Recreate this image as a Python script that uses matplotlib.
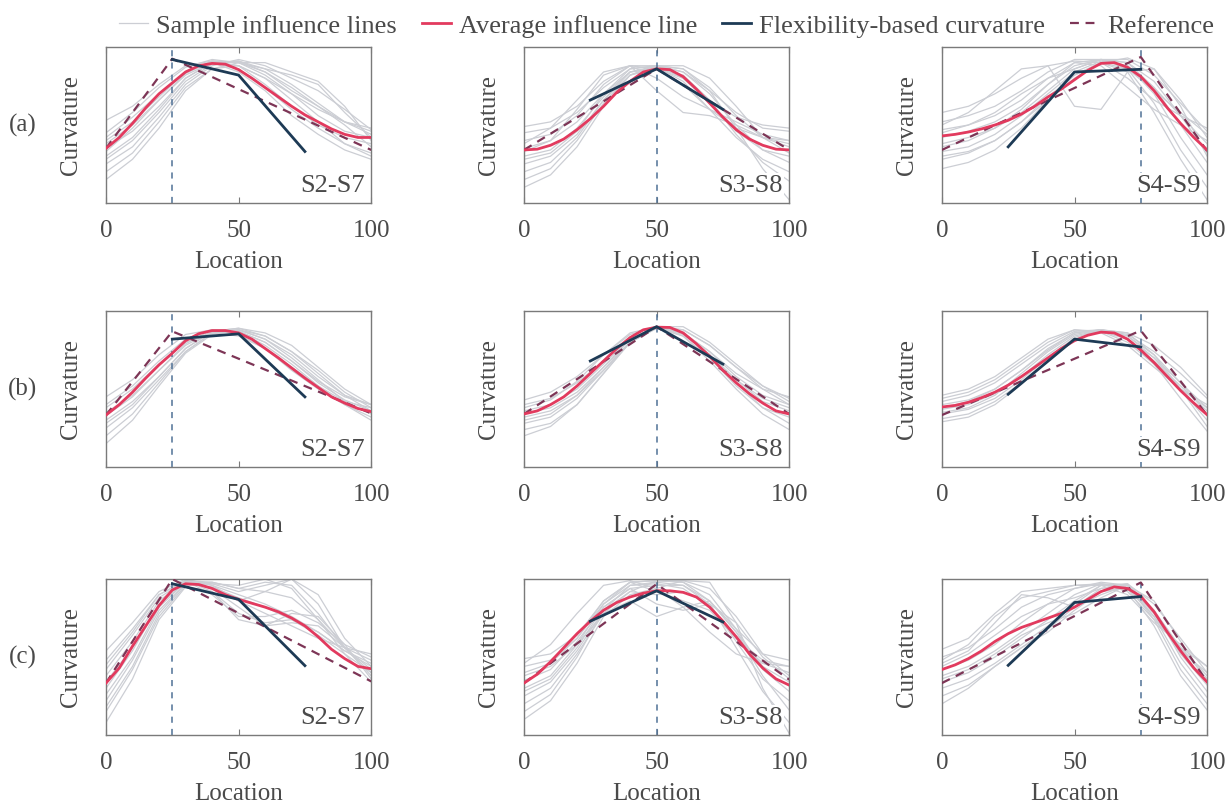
import numpy as np
import matplotlib
matplotlib.use("Agg")
import matplotlib.pyplot as plt

#================================== DATA ======================================#

x_gray = [0, 10, 20, 30, 40, 50, 60, 70, 80, 90, 100]
x_avg = [0, 5, 10, 15, 20, 25, 30, 35, 40, 45, 50, 55, 60, 65, 70, 75, 80, 85, 90, 95, 100]
x_flex = [25, 50, 75]

row_labels = ["(a)", "(b)", "(c)"]
pair_labels = ["S2-S7", "S3-S8", "S4-S9"]
sensor_loc = [25, 50, 75]

# --- row (a) ---
gray_a1 = [
    [0.53, 0.62, 0.76, 0.88, 0.91, 0.88, 0.80, 0.70, 0.60, 0.52, 0.48],
    [0.45, 0.58, 0.74, 0.87, 0.92, 0.90, 0.84, 0.74, 0.62, 0.52, 0.46],
    [0.40, 0.52, 0.68, 0.84, 0.91, 0.90, 0.82, 0.70, 0.56, 0.46, 0.42],
    [0.35, 0.46, 0.62, 0.80, 0.90, 0.91, 0.86, 0.76, 0.64, 0.52, 0.44],
    [0.30, 0.42, 0.60, 0.80, 0.90, 0.88, 0.76, 0.62, 0.50, 0.42, 0.38],
    [0.25, 0.36, 0.55, 0.76, 0.88, 0.92, 0.88, 0.80, 0.72, 0.60, 0.47],
    [0.20, 0.32, 0.52, 0.74, 0.86, 0.88, 0.80, 0.66, 0.52, 0.38, 0.30],
    [0.15, 0.28, 0.48, 0.72, 0.86, 0.90, 0.90, 0.84, 0.78, 0.62, 0.40],
    [0.38, 0.50, 0.66, 0.82, 0.90, 0.86, 0.74, 0.60, 0.48, 0.38, 0.32],
    [0.42, 0.55, 0.70, 0.84, 0.90, 0.84, 0.72, 0.56, 0.44, 0.34, 0.28],
    [0.28, 0.40, 0.58, 0.78, 0.89, 0.91, 0.84, 0.72, 0.62, 0.50, 0.36],
    [0.33, 0.48, 0.66, 0.83, 0.91, 0.90, 0.86, 0.82, 0.76, 0.58, 0.42],
]
avg_a1 = [0.35, 0.42, 0.51, 0.61, 0.70, 0.77, 0.84, 0.88, 0.895, 0.89, 0.855,
          0.80, 0.74, 0.68, 0.62, 0.565, 0.52, 0.475, 0.44, 0.42, 0.42]
flex_a1 = [0.92, 0.82, 0.33]
ref_a1 = [0.35, 0.925, 0.34]

gray_a2 = [
    [0.49, 0.52, 0.62, 0.78, 0.88, 0.88, 0.80, 0.66, 0.55, 0.50, 0.48],
    [0.45, 0.48, 0.58, 0.74, 0.86, 0.88, 0.84, 0.72, 0.58, 0.48, 0.46],
    [0.40, 0.44, 0.56, 0.76, 0.88, 0.86, 0.76, 0.60, 0.48, 0.42, 0.40],
    [0.35, 0.40, 0.52, 0.70, 0.84, 0.88, 0.86, 0.74, 0.56, 0.42, 0.36],
    [0.30, 0.34, 0.48, 0.68, 0.84, 0.86, 0.80, 0.64, 0.46, 0.34, 0.30],
    [0.25, 0.30, 0.44, 0.66, 0.82, 0.88, 0.84, 0.70, 0.50, 0.34, 0.26],
    [0.20, 0.26, 0.42, 0.66, 0.84, 0.87, 0.78, 0.60, 0.42, 0.28, 0.20],
    [0.15, 0.22, 0.40, 0.64, 0.82, 0.86, 0.82, 0.66, 0.44, 0.26, 0.14],
    [0.10, 0.18, 0.36, 0.62, 0.82, 0.88, 0.86, 0.72, 0.48, 0.22, 0.02],
    [0.38, 0.48, 0.66, 0.84, 0.88, 0.72, 0.58, 0.56, 0.50, 0.42, 0.38],
    [0.33, 0.40, 0.60, 0.82, 0.88, 0.80, 0.68, 0.60, 0.52, 0.44, 0.40],
    [0.28, 0.32, 0.46, 0.70, 0.86, 0.88, 0.88, 0.80, 0.62, 0.42, 0.32],
]
avg_a2 = [0.34, 0.345, 0.37, 0.41, 0.47, 0.54, 0.62, 0.71, 0.78, 0.84, 0.86,
          0.855, 0.81, 0.73, 0.64, 0.55, 0.47, 0.41, 0.37, 0.345, 0.34]
flex_a2 = [0.66, 0.86, 0.60]
ref_a2 = [0.34, 0.86, 0.34]

gray_a3 = [
    [0.58, 0.62, 0.70, 0.80, 0.88, 0.91, 0.90, 0.80, 0.66, 0.56, 0.48],
    [0.52, 0.56, 0.62, 0.72, 0.84, 0.92, 0.92, 0.86, 0.72, 0.58, 0.44],
    [0.47, 0.50, 0.56, 0.66, 0.80, 0.90, 0.92, 0.88, 0.74, 0.56, 0.38],
    [0.42, 0.46, 0.52, 0.62, 0.76, 0.88, 0.92, 0.90, 0.78, 0.56, 0.32],
    [0.38, 0.42, 0.48, 0.58, 0.72, 0.86, 0.92, 0.90, 0.74, 0.50, 0.26],
    [0.33, 0.36, 0.44, 0.56, 0.70, 0.84, 0.91, 0.88, 0.70, 0.42, 0.18],
    [0.28, 0.32, 0.40, 0.52, 0.68, 0.82, 0.90, 0.86, 0.64, 0.34, 0.10],
    [0.22, 0.26, 0.34, 0.48, 0.66, 0.82, 0.90, 0.84, 0.58, 0.28, 0.02],
    [0.50, 0.58, 0.72, 0.86, 0.88, 0.62, 0.60, 0.84, 0.86, 0.66, 0.42],
    [0.45, 0.50, 0.58, 0.70, 0.80, 0.86, 0.92, 0.92, 0.82, 0.64, 0.46],
    [0.36, 0.40, 0.48, 0.60, 0.76, 0.90, 0.88, 0.74, 0.60, 0.50, 0.40],
    [0.30, 0.33, 0.40, 0.52, 0.66, 0.80, 0.90, 0.93, 0.86, 0.62, 0.30],
]
avg_a3 = [0.43, 0.44, 0.455, 0.475, 0.50, 0.53, 0.57, 0.62, 0.68, 0.73, 0.79,
          0.85, 0.895, 0.90, 0.87, 0.81, 0.72, 0.61, 0.51, 0.42, 0.34]
flex_a3 = [0.36, 0.84, 0.857]
ref_a3 = [0.34, 0.936, 0.333]

# --- row (b) ---
gray_b1 = [
    [0.45, 0.56, 0.72, 0.85, 0.88, 0.85, 0.76, 0.64, 0.52, 0.42, 0.38],
    [0.40, 0.52, 0.68, 0.82, 0.88, 0.87, 0.80, 0.68, 0.55, 0.45, 0.40],
    [0.35, 0.46, 0.62, 0.78, 0.87, 0.88, 0.82, 0.72, 0.58, 0.46, 0.40],
    [0.30, 0.42, 0.58, 0.76, 0.87, 0.89, 0.84, 0.74, 0.60, 0.46, 0.36],
    [0.25, 0.38, 0.56, 0.74, 0.86, 0.88, 0.82, 0.70, 0.56, 0.42, 0.34],
    [0.20, 0.34, 0.54, 0.74, 0.86, 0.87, 0.78, 0.66, 0.52, 0.40, 0.32],
    [0.15, 0.30, 0.52, 0.73, 0.85, 0.88, 0.84, 0.74, 0.62, 0.48, 0.38],
    [0.38, 0.50, 0.66, 0.80, 0.86, 0.84, 0.76, 0.62, 0.50, 0.40, 0.30],
    [0.28, 0.40, 0.58, 0.76, 0.87, 0.89, 0.86, 0.78, 0.64, 0.50, 0.40],
    [0.33, 0.45, 0.62, 0.79, 0.88, 0.87, 0.80, 0.68, 0.54, 0.43, 0.36],
]
avg_b1 = [0.333, 0.40, 0.48, 0.57, 0.655, 0.73, 0.81, 0.855, 0.875, 0.875, 0.86,
          0.82, 0.76, 0.70, 0.635, 0.57, 0.51, 0.45, 0.41, 0.375, 0.355]
flex_b1 = [0.82, 0.854, 0.45]
ref_b1 = [0.333, 0.87, 0.344]

gray_b2 = [
    [0.43, 0.48, 0.58, 0.72, 0.85, 0.90, 0.86, 0.74, 0.60, 0.50, 0.45],
    [0.40, 0.44, 0.54, 0.68, 0.82, 0.90, 0.88, 0.78, 0.64, 0.52, 0.44],
    [0.36, 0.40, 0.50, 0.66, 0.82, 0.90, 0.86, 0.74, 0.58, 0.46, 0.40],
    [0.32, 0.36, 0.46, 0.62, 0.80, 0.89, 0.86, 0.72, 0.56, 0.42, 0.36],
    [0.28, 0.32, 0.44, 0.62, 0.80, 0.90, 0.84, 0.70, 0.52, 0.38, 0.32],
    [0.24, 0.28, 0.40, 0.60, 0.80, 0.90, 0.86, 0.72, 0.54, 0.38, 0.28],
    [0.20, 0.26, 0.40, 0.60, 0.80, 0.89, 0.84, 0.68, 0.50, 0.34, 0.24],
    [0.38, 0.43, 0.55, 0.72, 0.86, 0.90, 0.88, 0.78, 0.64, 0.50, 0.40],
    [0.30, 0.34, 0.46, 0.64, 0.82, 0.90, 0.90, 0.80, 0.66, 0.52, 0.42],
    [0.34, 0.38, 0.48, 0.64, 0.80, 0.89, 0.85, 0.72, 0.56, 0.44, 0.38],
]
avg_b2 = [0.34, 0.36, 0.40, 0.45, 0.52, 0.60, 0.68, 0.76, 0.83, 0.88, 0.897,
          0.895, 0.86, 0.79, 0.71, 0.62, 0.54, 0.47, 0.41, 0.36, 0.34]
flex_b2 = [0.68, 0.90, 0.66]
ref_b2 = [0.34, 0.90, 0.34]

gray_b3 = [
    [0.46, 0.50, 0.58, 0.70, 0.82, 0.88, 0.86, 0.78, 0.64, 0.50, 0.40],
    [0.42, 0.46, 0.54, 0.66, 0.78, 0.87, 0.88, 0.82, 0.68, 0.52, 0.36],
    [0.40, 0.43, 0.50, 0.62, 0.75, 0.86, 0.88, 0.82, 0.70, 0.54, 0.38],
    [0.37, 0.40, 0.47, 0.58, 0.72, 0.84, 0.88, 0.84, 0.72, 0.54, 0.34],
    [0.34, 0.37, 0.44, 0.56, 0.70, 0.83, 0.88, 0.84, 0.70, 0.50, 0.30],
    [0.31, 0.34, 0.42, 0.54, 0.68, 0.82, 0.88, 0.86, 0.72, 0.50, 0.26],
    [0.29, 0.32, 0.40, 0.53, 0.68, 0.82, 0.87, 0.82, 0.66, 0.44, 0.23],
    [0.38, 0.42, 0.50, 0.62, 0.76, 0.86, 0.88, 0.86, 0.78, 0.64, 0.46],
    [0.44, 0.48, 0.56, 0.68, 0.80, 0.88, 0.87, 0.80, 0.66, 0.50, 0.38],
    [0.35, 0.38, 0.46, 0.60, 0.74, 0.85, 0.88, 0.85, 0.74, 0.60, 0.44],
]
avg_b3 = [0.385, 0.395, 0.415, 0.445, 0.48, 0.525, 0.58, 0.64, 0.70, 0.76, 0.81,
          0.845, 0.865, 0.86, 0.82, 0.75, 0.67, 0.58, 0.49, 0.41, 0.335]
flex_b3 = [0.467, 0.82, 0.77]
ref_b3 = [0.333, 0.875, 0.333]

# --- row (c) ---
gray_c1 = [
    [0.54, 0.72, 0.92, 1.00, 0.96, 0.86, 0.78, 0.70, 0.62, 0.56, 0.52],
    [0.45, 0.66, 0.90, 0.99, 0.92, 0.78, 0.72, 0.74, 0.66, 0.54, 0.46],
    [0.38, 0.60, 0.86, 0.99, 0.96, 0.90, 0.84, 0.76, 0.66, 0.54, 0.44],
    [0.30, 0.54, 0.84, 0.98, 0.94, 0.82, 0.70, 0.72, 0.70, 0.56, 0.40],
    [0.22, 0.48, 0.80, 0.97, 0.98, 0.94, 0.92, 0.88, 0.74, 0.56, 0.42],
    [0.15, 0.42, 0.76, 0.96, 0.97, 0.92, 0.96, 1.00, 0.84, 0.56, 0.38],
    [0.08, 0.36, 0.74, 0.95, 0.92, 0.74, 0.70, 0.78, 0.76, 0.58, 0.36],
    [0.42, 0.64, 0.88, 0.99, 0.98, 0.94, 0.98, 0.96, 0.78, 0.56, 0.48],
    [0.34, 0.56, 0.84, 0.98, 0.94, 0.86, 0.92, 1.00, 0.90, 0.62, 0.44],
    [0.26, 0.50, 0.82, 0.98, 0.97, 0.96, 1.00, 0.94, 0.74, 0.52, 0.40],
    [0.48, 0.68, 0.90, 0.99, 0.90, 0.76, 0.76, 0.80, 0.72, 0.58, 0.50],
    [0.18, 0.44, 0.78, 0.97, 0.95, 0.88, 0.82, 0.74, 0.64, 0.52, 0.34],
]
avg_c1 = [0.333, 0.43, 0.57, 0.70, 0.83, 0.93, 0.97, 0.965, 0.94, 0.90, 0.87,
          0.845, 0.82, 0.79, 0.75, 0.70, 0.63, 0.55, 0.49, 0.44, 0.425]
flex_c1 = [0.97, 0.87, 0.445]
ref_c1 = [0.333, 1.0, 0.344]

gray_c2 = [
    [0.49, 0.52, 0.64, 0.86, 0.98, 0.99, 0.98, 0.86, 0.68, 0.52, 0.48],
    [0.44, 0.48, 0.62, 0.84, 0.96, 0.97, 0.94, 0.82, 0.62, 0.48, 0.44],
    [0.40, 0.46, 0.62, 0.86, 0.98, 0.92, 0.86, 0.80, 0.62, 0.46, 0.40],
    [0.35, 0.42, 0.60, 0.82, 0.94, 0.96, 0.96, 0.86, 0.66, 0.44, 0.34],
    [0.30, 0.38, 0.58, 0.84, 0.98, 0.99, 0.98, 0.90, 0.68, 0.42, 0.28],
    [0.25, 0.34, 0.54, 0.80, 0.92, 0.90, 0.92, 0.84, 0.60, 0.36, 0.22],
    [0.20, 0.30, 0.52, 0.78, 0.86, 0.76, 0.82, 0.86, 0.66, 0.38, 0.16],
    [0.15, 0.26, 0.50, 0.80, 0.96, 0.98, 0.96, 0.84, 0.56, 0.28, 0.08],
    [0.10, 0.22, 0.46, 0.76, 0.90, 0.94, 0.99, 0.98, 0.72, 0.30, 0.01],
    [0.46, 0.58, 0.78, 0.96, 0.99, 0.94, 0.82, 0.66, 0.52, 0.46, 0.44],
    [0.38, 0.44, 0.58, 0.78, 0.92, 0.99, 0.99, 0.94, 0.76, 0.52, 0.38],
    [0.28, 0.36, 0.56, 0.82, 0.94, 0.84, 0.80, 0.84, 0.72, 0.50, 0.36],
]
avg_c2 = [0.333, 0.39, 0.47, 0.56, 0.65, 0.73, 0.80, 0.85, 0.885, 0.91, 0.925,
          0.925, 0.915, 0.885, 0.82, 0.73, 0.63, 0.52, 0.43, 0.36, 0.32]
flex_c2 = [0.73, 0.925, 0.725]
ref_c2 = [0.333, 0.968, 0.355]

gray_c3 = [
    [0.55, 0.62, 0.78, 0.92, 0.94, 0.96, 0.97, 0.92, 0.74, 0.56, 0.44],
    [0.50, 0.56, 0.68, 0.82, 0.90, 0.94, 0.97, 0.94, 0.76, 0.54, 0.40],
    [0.46, 0.54, 0.72, 0.90, 0.88, 0.82, 0.90, 0.96, 0.78, 0.56, 0.38],
    [0.42, 0.48, 0.58, 0.72, 0.84, 0.94, 0.98, 0.96, 0.80, 0.56, 0.36],
    [0.38, 0.44, 0.54, 0.66, 0.78, 0.90, 0.97, 0.96, 0.78, 0.52, 0.32],
    [0.34, 0.40, 0.50, 0.62, 0.74, 0.86, 0.96, 0.97, 0.80, 0.50, 0.28],
    [0.30, 0.36, 0.46, 0.58, 0.70, 0.84, 0.96, 0.96, 0.76, 0.46, 0.24],
    [0.25, 0.32, 0.44, 0.56, 0.68, 0.82, 0.94, 0.96, 0.74, 0.42, 0.20],
    [0.20, 0.30, 0.44, 0.56, 0.66, 0.80, 0.92, 0.94, 0.70, 0.38, 0.16],
    [0.48, 0.58, 0.76, 0.88, 0.92, 0.96, 0.96, 0.90, 0.72, 0.58, 0.44],
    [0.44, 0.52, 0.64, 0.76, 0.84, 0.88, 0.94, 0.97, 0.84, 0.62, 0.40],
    [0.36, 0.42, 0.52, 0.64, 0.72, 0.78, 0.88, 0.96, 0.86, 0.60, 0.34],
]
avg_c3 = [0.42, 0.45, 0.49, 0.54, 0.60, 0.65, 0.69, 0.72, 0.75, 0.78, 0.82,
          0.87, 0.92, 0.95, 0.94, 0.89, 0.79, 0.66, 0.54, 0.43, 0.34]
flex_c3 = [0.447, 0.85, 0.888]
ref_c3 = [0.333, 0.978, 0.34]

gray_all = [[gray_a1, gray_a2, gray_a3], [gray_b1, gray_b2, gray_b3], [gray_c1, gray_c2, gray_c3]]
avg_all = [[avg_a1, avg_a2, avg_a3], [avg_b1, avg_b2, avg_b3], [avg_c1, avg_c2, avg_c3]]
flex_all = [[flex_a1, flex_a2, flex_a3], [flex_b1, flex_b2, flex_b3], [flex_c1, flex_c2, flex_c3]]
ref_all = [[ref_a1, ref_a2, ref_a3], [ref_b1, ref_b2, ref_b3], [ref_c1, ref_c2, ref_c3]]

#================================== STYLE =====================================#

plt.rcParams["font.family"] = ["Liberation Serif", "DejaVu Serif"]

c_gray = "#ccced4"
c_avg = "#e23a5e"
c_flex = "#1d3a55"
c_ref = "#7d3556"
c_vline = "#4f7196"
c_text = "#4a4a4a"
c_frame = "#7a7a7a"

fig = plt.figure(figsize=(12.28, 8.08), dpi=100)

col_x0 = [0.0863, 0.4267, 0.767]
row_y0 = [0.7488, 0.422, 0.0903]
ax_w, ax_h = 0.216, 0.193

#================================== PLOT ======================================#

for r in range(3):
    for c in range(3):
        ax = fig.add_axes([col_x0[c], row_y0[r], ax_w, ax_h])
        s = sensor_loc[c]

        for k, g in enumerate(gray_all[r][c]):
            ax.plot(x_gray, g, color=c_gray, lw=0.9, zorder=1,
                    label="Sample influence lines" if k == 0 else None)
        ax.axvline(s, color=c_vline, lw=1.1, ls=(0, (4, 4)), zorder=2)
        ax.plot([0, s, 100], ref_all[r][c], color=c_ref, lw=1.6,
                ls=(0, (4, 3)), zorder=3, label="Reference")
        ax.plot(x_avg, avg_all[r][c], color=c_avg, lw=2.0, zorder=4,
                label="Average influence line")
        ax.plot(x_flex, flex_all[r][c], color=c_flex, lw=2.0, zorder=5,
                label="Flexibility-based curvature")

        ax.set_xlim(0, 100)
        ax.set_ylim(0, 1.0)
        ax.set_xticks([0, 50, 100])
        ax.set_yticks([])
        ax.tick_params(axis="x", direction="in", top=True, length=4,
                       width=0.8, color=c_frame, labelsize=18,
                       labelcolor=c_text, pad=12)
        for sp in ax.spines.values():
            sp.set_color(c_frame)
            sp.set_linewidth(1.0)
        ax.set_xlabel("Location", fontsize=18, color=c_text, labelpad=7)
        ax.set_ylabel("Curvature", fontsize=18, color=c_text, labelpad=17)

        ax.text(0.975, 0.04, pair_labels[c], transform=ax.transAxes,
                ha="right", va="bottom", fontsize=19, color=c_text, zorder=6,
                bbox=dict(facecolor="white", edgecolor="none", pad=1.0))

        if c == 0:
            ax.text(-0.315, 0.5, row_labels[r], transform=ax.transAxes,
                    ha="center", va="center", fontsize=18, color=c_text)
        if r == 0 and c == 0:
            handles, labels = ax.get_legend_handles_labels()

order = ["Sample influence lines", "Average influence line",
         "Flexibility-based curvature", "Reference"]
hmap = dict(zip(labels, handles))
leg = fig.legend([hmap[o] for o in order], order, loc="upper center",
                 bbox_to_anchor=(0.543, 1.012), ncol=4, frameon=False,
                 fontsize=19, handlelength=1.1, handletextpad=0.3,
                 columnspacing=0.95)
for t in leg.get_texts():
    t.set_color(c_text)

fig.savefig("out.png", dpi=100)
